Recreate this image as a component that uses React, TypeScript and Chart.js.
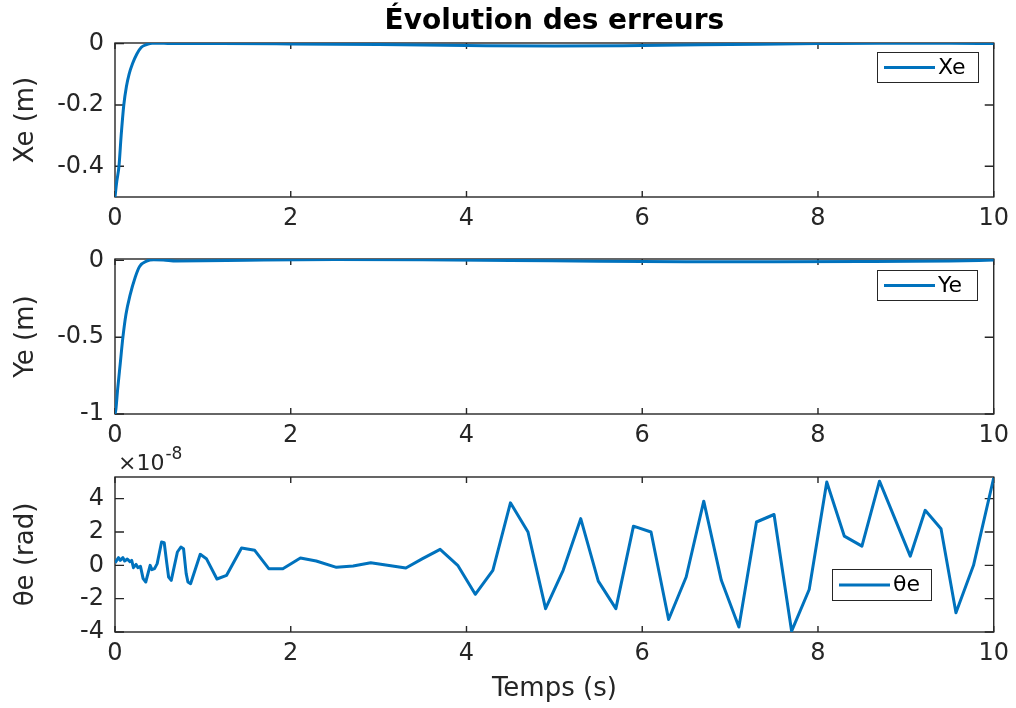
import React, { useEffect, useRef } from 'react';
import { Chart, registerables } from 'chart.js';

Chart.register(...registerables);

// ---------------- data ----------------
const xTickValues = [0, 2, 4, 6, 8, 10];
const xeTicks = [-0.4, -0.2, 0];
const yeTicks = [-1, -0.5, 0];
const thTicks = [-4, -2, 0, 2, 4];

const xeTime = [0, 0.02, 0.045, 0.07, 0.1, 0.13, 0.16, 0.2, 0.25, 0.3, 0.35, 0.42, 0.5, 0.6, 0.8, 1.2, 2, 3, 4, 5, 6, 7, 8, 8.7, 9.5, 10];
const xeValues = [-0.5, -0.45, -0.4, -0.3, -0.2, -0.14, -0.1, -0.065, -0.033, -0.012, -0.004, 0.001, 0.0015, 0.0005, 0, 0, -0.001, -0.003, -0.006, -0.008, -0.006, -0.003, 0.0, 0.0015, 0.001, 0.0];

const yeTime = [0, 0.01, 0.03, 0.06, 0.09, 0.125, 0.17, 0.23, 0.28, 0.36, 0.44, 0.55, 0.7, 1, 1.5, 2.5, 3.5, 4.5, 5.5, 6.5, 7.5, 8.5, 9.5, 10];
const yeValues = [-1, -0.97, -0.84, -0.67, -0.5, -0.35, -0.23, -0.11, -0.04, -0.005, 0.004, 0.002, -0.004, -0.003, 0.001, 0.006, 0.004, 0.0, -0.006, -0.009, -0.009, -0.008, -0.004, 0.002];

// θe in units of 1e-8 rad
const thTime = [0, 0.04, 0.06, 0.09, 0.11, 0.14, 0.17, 0.19, 0.21, 0.24, 0.26, 0.29, 0.32, 0.35, 0.40, 0.42, 0.45, 0.48, 0.53, 0.56, 0.59, 0.61, 0.64, 0.71, 0.75, 0.78, 0.81, 0.83, 0.86, 0.97, 1.04, 1.16, 1.27, 1.44, 1.59, 1.75, 1.91, 2.11, 2.29, 2.52, 2.71, 2.91, 3.31, 3.50, 3.70, 3.90, 4.10, 4.30, 4.50, 4.70, 4.90, 5.10, 5.30, 5.50, 5.70, 5.90, 6.10, 6.30, 6.50, 6.70, 6.90, 7.10, 7.30, 7.50, 7.70, 7.90, 8.10, 8.30, 8.50, 8.70, 9.05, 9.22, 9.40, 9.57, 9.77, 10];
const thValues = [0.15, 0.46, 0.3, 0.46, 0.26, 0.38, 0.22, 0.3, -0.14, 0.06, -0.14, -0.06, -0.8, -1.0, 0, -0.26, -0.2, 0.1, 1.4, 1.36, 0.1, -0.7, -0.9, 0.8, 1.1, 1.0, -0.5, -1.0, -1.1, 0.66, 0.4, -0.82, -0.6, 1.04, 0.9, -0.2, -0.2, 0.44, 0.26, -0.12, -0.04, 0.16, -0.16, 0.4, 0.96, 0, -1.74, -0.3, 3.75, 2.0, -2.6, -0.3, 2.8, -0.95, -2.6, 2.35, 2.0, -3.25, -0.7, 3.85, -0.9, -3.7, 2.6, 3.05, -3.95, -1.45, 5.0, 1.75, 1.15, 5.05, 0.55, 3.3, 2.2, -2.85, 0.0, 5.25];

// ---------------- style ----------------
const FONT = "'DejaVu Sans', 'Liberation Sans', sans-serif";
const INK = '#262626';
const BLUE = '#0072BD';

const matlabAxes = {
  id: 'matlabAxes',
  beforeDatasetsDraw(chart: any) {
    const { ctx, chartArea: a, scales } = chart;
    ctx.save();
    ctx.strokeStyle = INK;
    ctx.lineWidth = 1.4;
    ctx.strokeRect(a.left, a.top, a.right - a.left, a.bottom - a.top);
    ctx.beginPath();
    for (const t of scales.x.ticks) {
      const px = scales.x.getPixelForValue(t.value);
      ctx.moveTo(px, a.bottom); ctx.lineTo(px, a.bottom - 6);
      ctx.moveTo(px, a.top); ctx.lineTo(px, a.top + 6);
    }
    for (const t of scales.y.ticks) {
      const py = scales.y.getPixelForValue(t.value);
      ctx.moveTo(a.left, py); ctx.lineTo(a.left + 9, py);
      ctx.moveTo(a.right, py); ctx.lineTo(a.right - 9, py);
    }
    ctx.stroke();
    ctx.restore();
  },
  afterDatasetsDraw(chart: any, _args: any, opts: any) {
    const { ctx, chartArea: a } = chart;
    const ds = chart.data.datasets[0];
    const lg = opts.legend;
    ctx.save();
    if (lg) {
      const bx = Math.round(a.right - lg.right - lg.w);
      const by = Math.round(a.top + lg.top);
      ctx.fillStyle = '#ffffff';
      ctx.fillRect(bx, by, lg.w, lg.h);
      ctx.strokeStyle = INK;
      ctx.lineWidth = 1;
      ctx.strokeRect(bx + 0.5, by + 0.5, lg.w, lg.h);
      ctx.strokeStyle = ds.borderColor;
      ctx.lineWidth = 3;
      ctx.beginPath();
      ctx.moveTo(bx + 7, by + lg.h / 2 + 0.5);
      ctx.lineTo(bx + 58, by + lg.h / 2 + 0.5);
      ctx.stroke();
      ctx.fillStyle = '#000';
      ctx.font = `22px ${FONT}`;
      ctx.textAlign = 'left';
      ctx.textBaseline = 'middle';
      ctx.fillText(ds.label, bx + 61, by + lg.h / 2 + 1);
    }
    if (opts.exponent) {
      ctx.fillStyle = INK;
      ctx.textAlign = 'left';
      ctx.textBaseline = 'alphabetic';
      ctx.font = `22px ${FONT}`;
      const base = a.left + 3;
      const txt = '\u00d710';
      ctx.fillText(txt, base, a.top - 7);
      const w = ctx.measureText(txt).width;
      ctx.font = `17px ${FONT}`;
      ctx.fillText(opts.exponent, base + w + 1, a.top - 18);
    }
    ctx.restore();
  },
};

function buildConfig(p: any) {
  return {
    type: 'line',
    data: {
      datasets: [
        {
          label: p.label,
          data: p.time.map((t: number, i: number) => ({ x: t, y: p.values[i] })),
          borderColor: BLUE,
          backgroundColor: BLUE,
          borderWidth: 3,
          pointRadius: 0,
          fill: false,
          tension: p.smooth ? 0.4 : 0,
          cubicInterpolationMode: p.smooth ? 'monotone' : 'default',
          borderJoinStyle: 'round',
        },
      ],
    },
    options: {
      responsive: false,
      animation: false,
      layout: { padding: { left: 0, right: 21, top: p.padTop, bottom: 0 } },
      plugins: {
        legend: { display: false },
        tooltip: { enabled: false },
        title: p.title
          ? {
              display: true,
              text: p.title,
              color: '#000',
              fullSize: false,
              font: { family: FONT, size: 28, weight: 'bold', lineHeight: 1.2 },
              padding: { top: 5, bottom: 4.4 },
            }
          : { display: false },
        matlabAxes: { legend: p.legend, exponent: p.exponent },
      },
      scales: {
        x: {
          type: 'linear',
          min: 0,
          max: 10,
          afterBuildTicks: (s: any) => { s.ticks = xTickValues.map((v) => ({ value: v })); },
          afterFit: (s: any) => { s.height = p.xHeight; },
          grid: { display: false, drawTicks: false },
          border: { display: false },
          ticks: {
            color: INK,
            font: { family: FONT, size: 24 },
            padding: 7,
            maxRotation: 0,
            autoSkip: false,
            callback: (v: any) => `${v}`,
          },
          title: p.xTitle
            ? { display: true, text: p.xTitle, color: INK, font: { family: FONT, size: 26 }, padding: { top: 0, bottom: 3 } }
            : { display: false },
        },
        y: {
          type: 'linear',
          min: p.yMin,
          max: p.yMax,
          afterBuildTicks: (s: any) => { s.ticks = p.yTicks.map((v: number) => ({ value: v })); },
          afterFit: (s: any) => { s.width = 115; },
          grid: { display: false, drawTicks: false },
          border: { display: false },
          ticks: {
            color: INK,
            font: { family: FONT, size: 24 },
            padding: 11,
            autoSkip: false,
            callback: (v: any) => `${v}`,
          },
          title: { display: true, text: p.yTitle, color: INK, font: { family: FONT, size: 26 }, padding: { top: 11, bottom: 0 } },
        },
      },
    },
    plugins: [matlabAxes],
  };
}

export default function App() {
  const r1 = useRef<HTMLCanvasElement>(null);
  const r2 = useRef<HTMLCanvasElement>(null);
  const r3 = useRef<HTMLCanvasElement>(null);

  useEffect(() => {
    const c1 = new Chart(r1.current as any, buildConfig({
      label: 'Xe', time: xeTime, values: xeValues, smooth: true,
      title: '\u00c9volution des erreurs', padTop: 0, xHeight: 43,
      yMin: -0.5, yMax: 0.002, yTicks: xeTicks, yTitle: 'Xe (m)',
      legend: { right: 16, top: 9, w: 101, h: 30 },
    }) as any);
    const c2 = new Chart(r2.current as any, buildConfig({
      label: 'Ye', time: yeTime, values: yeValues, smooth: true,
      padTop: 29, xHeight: 36,
      yMin: -1, yMax: 0.009, yTicks: yeTicks, yTitle: 'Ye (m)',
      legend: { right: 17, top: 11, w: 100, h: 30 },
    }) as any);
    const c3 = new Chart(r3.current as any, buildConfig({
      label: '\u03b8e', time: thTime, values: thValues, smooth: false,
      padTop: 37, xHeight: 76, xTitle: 'Temps (s)',
      yMin: -4, yMax: 5.3, yTicks: thTicks, yTitle: '\u03b8e (rad)',
      legend: { right: 63, top: 92, w: 99, h: 31 },
      exponent: '-8',
    }) as any);
    return () => { c1.destroy(); c2.destroy(); c3.destroy(); };
  }, []);

  return (
    <div style={{ position: 'absolute', left: 0, top: 0, width: 1016, height: 708, background: '#ffffff', overflow: 'hidden' }}>
      <canvas ref={r1} width={1016} height={240} style={{ position: 'absolute', left: 0, top: 0 }} />
      <canvas ref={r2} width={1016} height={220} style={{ position: 'absolute', left: 0, top: 230 }} />
      <canvas ref={r3} width={1016} height={268} style={{ position: 'absolute', left: 0, top: 440 }} />
    </div>
  );
}
